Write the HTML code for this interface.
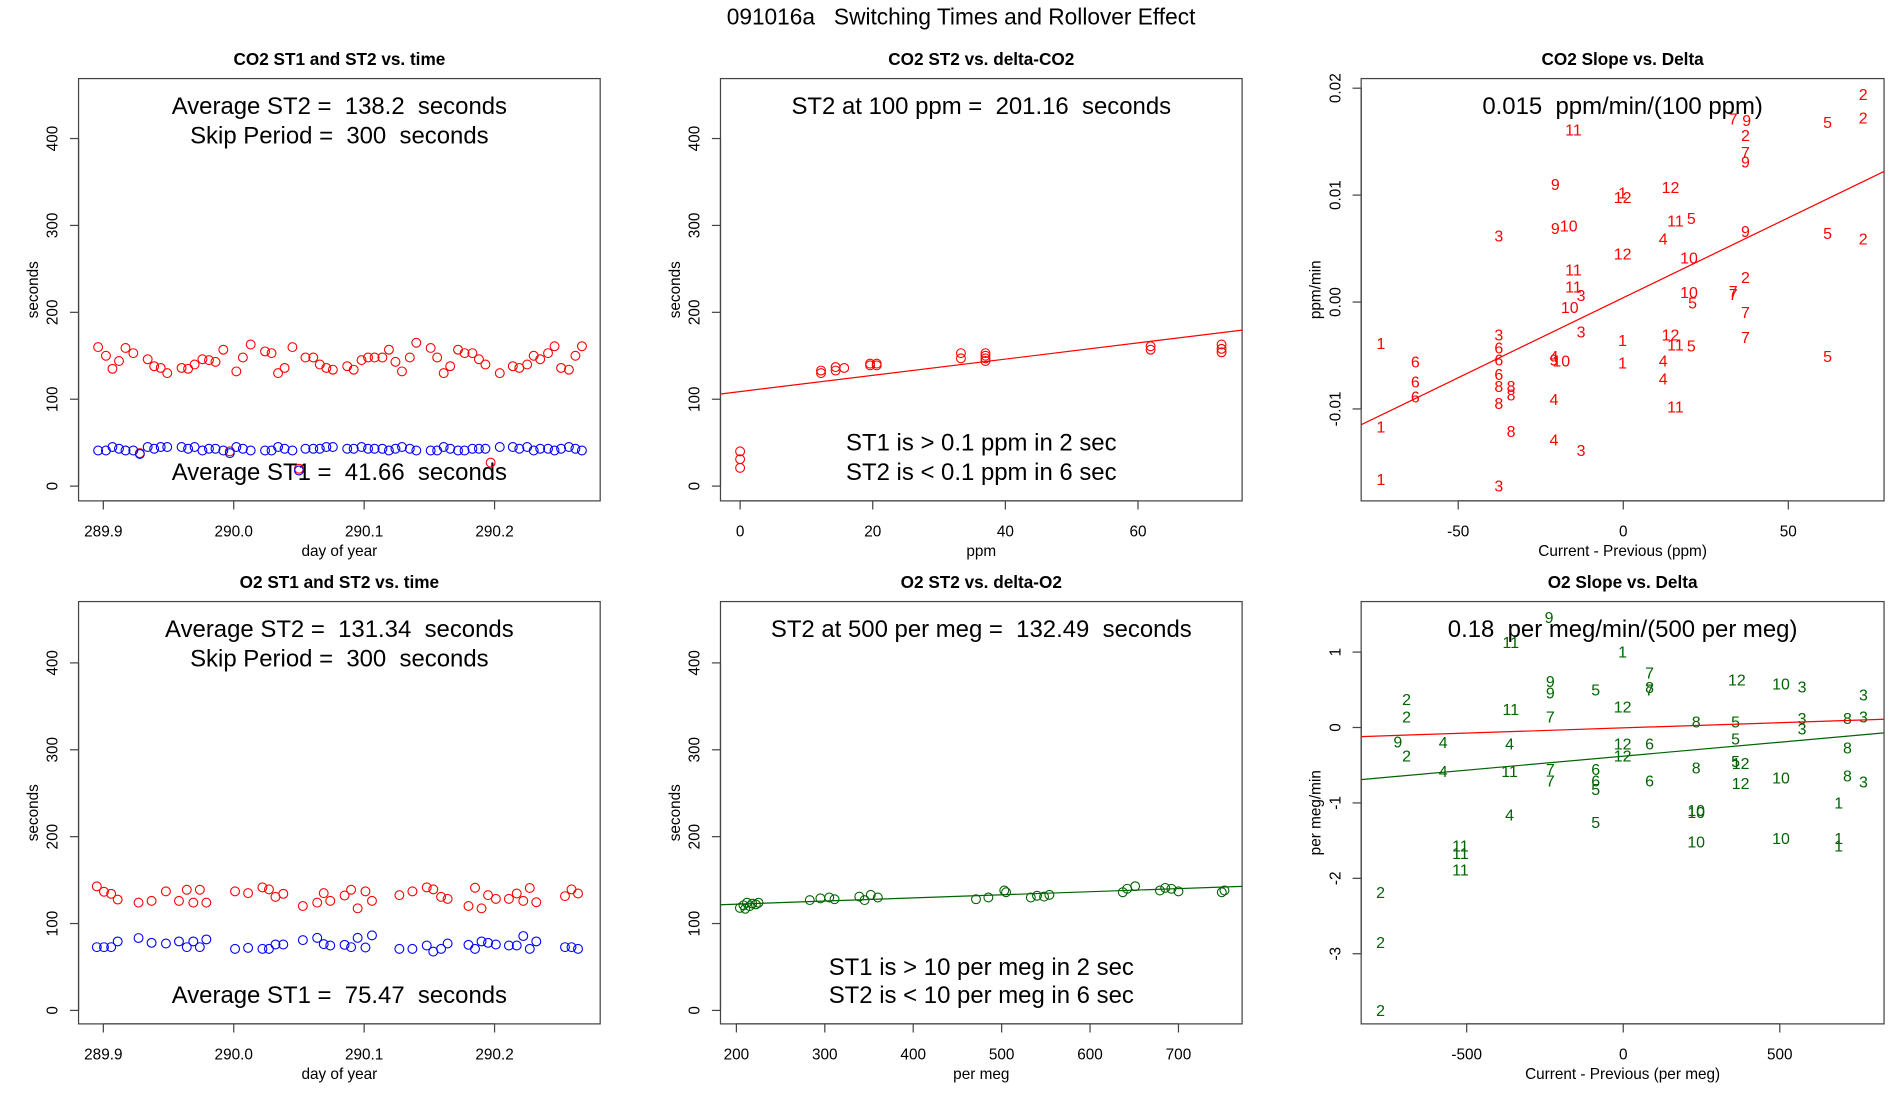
<!DOCTYPE html>
<html><head><meta charset="utf-8"><style>
html,body{margin:0;padding:0;background:#fff;}
svg{display:block;font-family:"Liberation Sans",sans-serif;}
</style></head><body>
<svg id="chart" width="1900" height="1100" viewBox="0 0 1548 896" preserveAspectRatio="none" xmlns="http://www.w3.org/2000/svg">
<rect x="0" y="0" width="1548" height="896" fill="#fff"/>
<text x="783" y="20" font-size="18.5" text-anchor="middle" xml:space="preserve">091016a   Switching Times and Rollover Effect</text>
</svg>
<script>
// ---- Panel 1: CO2 ST1/ST2 vs time ----
const co2Days = [289.896,289.902,289.907,289.912,289.917,289.923,289.934,289.939,289.944,289.949,289.960,289.965,289.970,289.976,289.981,289.986,289.992,290.002,290.007,290.013,290.024,290.029,290.034,290.039,290.045,290.055,290.061,290.066,290.071,290.076,290.087,290.092,290.098,290.103,290.108,290.114,290.119,290.124,290.129,290.135,290.140,290.151,290.156,290.161,290.166,290.172,290.177,290.183,290.188,290.193,290.204,290.214,290.219,290.225,290.230,290.235,290.241,290.246,290.251,290.257,290.262,290.267];
const co2ST2 = [160,150,135,144,159,153,146,138,136,130,136,135,140,146,145,143,157,132,148,163,155,153,130,136,160,148,148,140,136,134,138,134,145,148,148,148,157,143,132,148,165,159,148,130,138,157,153,153,146,140,130,138,136,140,150,146,153,161,136,134,150,161];
const co2ST1 = [41,41,45,43,41,41,45,43,45,45,45,43,45,41,43,43,41,45,43,41,41,41,45,43,41,43,43,43,45,45,43,43,45,43,43,43,41,43,45,43,41,41,41,45,43,41,41,43,43,43,45,45,43,45,41,43,43,41,43,45,43,41];
const co2ExtraDays = [289.928,289.997,290.050,290.197];
const co2ExtraST2 = [38,40,20,27];
const co2ExtraDaysST1 = [289.928,289.997,290.050];
const co2ExtraST1 = [37,38,18];
// ---- Panel 2: CO2 ST2 vs delta ----
const co2Delta = [0,0,0,12.2,12.2,14.4,14.4,15.7,19.6,19.6,20.6,20.6,33.3,33.3,37,37,37,37,61.9,61.9,72.6,72.6,72.6];
const co2DeltaST2 = [40,31,21,133,130,137,133,136,141,139,141,139,153,147,153,150,147,144,161,157,163,158,154];
const co2FitIntercept = 108.8, co2FitSlope = 0.934;
// ---- Panel 3: CO2 slope vs delta ----
const co2SlopeX = [72.7,72.7,61.9,33.3,37.4,37.0,37.0,37.0,-15.1,-20.6,-0.2,-0.2,14.3,15.8,20.6,-20.6,-16.5,-37.7,12.1,37.0,61.9,72.7,-0.2,19.9,-15.1,-15.1,-12.8,-16.2,19.9,21.0,37.0,33.3,33.3,37.0,-12.8,-37.7,-0.2,14.3,15.8,20.6,37.0,61.9,-73.4,-63.0,-37.7,-37.7,-37.7,-37.7,-37.7,-34.0,-34.0,-21.0,-18.8,-21.0,-0.2,12.1,12.1,-63.0,-63.0,-21.0,15.8,-34.0,-73.4,-21.0,-12.8,-73.4,-37.7];
const co2SlopeY = [0.0194,0.0172,0.0168,0.0171,0.0170,0.0156,0.0140,0.0131,0.0161,0.0110,0.0102,0.0098,0.0107,0.0076,0.0078,0.0069,0.0071,0.0062,0.0059,0.0066,0.0064,0.0059,0.0045,0.0041,0.0030,0.0014,0.0006,-0.0005,0.0009,-0.0001,0.0023,0.0010,0.0007,-0.0010,-0.0028,-0.0031,-0.0036,-0.0031,-0.0040,-0.0041,-0.0033,-0.0051,-0.0039,-0.0056,-0.0043,-0.0054,-0.0068,-0.0079,-0.0095,-0.0079,-0.0087,-0.0051,-0.0055,-0.0054,-0.0057,-0.0055,-0.0072,-0.0075,-0.0089,-0.0091,-0.0098,-0.0121,-0.0117,-0.0129,-0.0139,-0.0166,-0.0172];
const co2SlopeLab = ["2","2","5","7","9","2","7","9","11","9","1","12","12","11","5","9","10","3","4","9","5","2","12","10","11","11","3","10","10","5","2","7","7","7","3","3","1","12","11","5","7","5","1","6","6","6","6","8","8","8","8","4","10","9","1","4","4","6","6","4","11","8","1","4","3","1","3"];
const co2SlopeIntercept = 0.0004, co2SlopeSlope = 0.0001496;
// ---- Panel 4: O2 ST1/ST2 vs time ----
const o2Days = [289.895,289.9005,289.906,289.911,289.927,289.937,289.948,289.958,289.964,289.969,289.974,289.979,290.001,290.011,290.022,290.027,290.032,290.038,290.053,290.064,290.069,290.074,290.085,290.090,290.095,290.101,290.106,290.127,290.137,290.148,290.153,290.159,290.164,290.180,290.185,290.190,290.195,290.201,290.211,290.217,290.222,290.227,290.232,290.254,290.259,290.264];
const o2ST2 = [142.8,136.6,134.2,127.6,124.1,126.1,137.0,126.1,138.9,124.1,138.9,124.1,137.0,135.0,141.6,139.3,130.7,134.2,120.2,124.1,135.0,126.1,132.3,138.9,117.5,137.0,126.1,132.7,137.0,141.6,139.3,130.7,128.4,120.2,141.2,117.5,132.7,128.4,128.4,134.6,126.1,140.9,124.5,131.5,139.3,134.6];
const o2ST1 = [72.8,72.8,72.8,79.4,83.3,77.8,77.0,79.4,72.8,79.4,72.8,81.7,70.8,72.0,70.8,70.8,75.9,75.9,80.9,83.5,76.3,74.7,75.5,72.8,83.5,72.4,86.4,70.8,70.8,74.7,67.7,70.8,77.0,75.5,70.8,79.4,77.8,75.9,74.7,74.7,85.6,70.8,79.4,72.8,72.8,70.8];
// ---- Panel 5: O2 ST2 vs delta ----
const o2Delta = [204,208,212,215,218,222,225,210,283,295,305,311,339,345,352,360,471,485,503,505,533,540,548,554,637,642,651,679,685,692,700,749,752];
const o2DeltaST2 = [118,121,124,120,123,122,124,117,127,129,130,128,131,127,133,130,128,130,138,136,130,132,131,133,136,140,143,138,141,140,137,136,138];
const o2FitIntercept = 115.1, o2FitSlope = 0.0359;
// ---- Panel 6: O2 slope vs delta ----
const o2SlopeX = [-237,-359,-2,84,84,84,363,504,571,-233,-233,-88,-2,-692,-692,-359,-233,233,359,571,571,716,767,767,-720,-692,-575,-363,-2,-2,84,359,359,375,716,-575,-363,-233,-233,-88,-88,-88,84,233,375,504,716,767,688,-363,-88,233,233,233,504,688,688,-520,-520,-520,-775,-775,-775];
const o2SlopeY = [1.46,1.13,1.0,0.72,0.50,0.53,0.63,0.58,0.54,0.61,0.46,0.50,0.27,0.37,0.14,0.24,0.14,0.07,0.07,-0.02,0.12,0.12,0.43,0.14,-0.19,-0.38,-0.20,-0.22,-0.22,-0.38,-0.22,-0.15,-0.45,-0.48,-0.27,-0.58,-0.58,-0.56,-0.71,-0.56,-0.71,-0.82,-0.71,-0.54,-0.74,-0.67,-0.64,-0.72,-1.0,-1.16,-1.26,-1.10,-1.13,-1.52,-1.47,-1.47,-1.57,-1.57,-1.67,-1.89,-2.19,-2.85,-3.75];
const o2SlopeLab = ["9","11","1","7","7","8","12","10","3","9","9","5","12","2","2","11","7","8","5","3","3","8","3","3","9","2","4","4","12","12","6","5","5","12","8","4","11","7","7","6","6","5","6","8","12","10","8","3","1","4","5","10","10","10","10","1","1","11","11","11","2","2","2"];
const o2RedIntercept = -0.005, o2RedSlope = 0.000138;
const o2GreenIntercept = -0.38, o2GreenSlope = 0.000371;

const NS = "http://www.w3.org/2000/svg";
const svg = document.getElementById('chart');
function mk(tag, attrs, parent) {
  const e = document.createElementNS(NS, tag);
  for (const k in attrs) e.setAttribute(k, attrs[k]);
  (parent || svg).appendChild(e);
  return e;
}
function txt(s, attrs, parent) { const t = mk('text', attrs, parent); t.textContent = s; return t; }

function makePanel(o) {
  const g = mk('g', {});
  
  
  const sx = v => o.x0 + (v - o.xd[0]) / (o.xd[1] - o.xd[0]) * (o.x1 - o.x0);
  const sy = v => o.y1 - (v - o.yd[0]) / (o.yd[1] - o.yd[0]) * (o.y1 - o.y0);
  const box = mk('rect', {x:o.x0, y:o.y0, width:o.x1-o.x0, height:o.y1-o.y0, fill:'none', stroke:'#444', 'stroke-width':1}, g);
  
  
  const t = txt(o.title, {x:(o.x0+o.x1)/2, y:o.y0-11, 'font-size':14, 'font-weight':'bold', 'text-anchor':'middle'}, g);
  
  
  const xa = mk('g', {}, g);
  
  
  mk('line', {x1:sx(o.xt[0]), x2:sx(o.xt[o.xt.length-1]), y1:o.y1, y2:o.y1, stroke:'#444'}, xa);
  o.xt.forEach((v, i) => {
    mk('line', {x1:sx(v), x2:sx(v), y1:o.y1, y2:o.y1+7, stroke:'#444'}, xa);
    const l = txt(o.xl[i], {x:sx(v), y:o.y1+29, 'font-size':12.5, 'text-anchor':'middle'}, xa);
    
    
  });
  const xt = txt(o.xTitle, {x:(o.x0+o.x1)/2, y:o.y1+45, 'font-size':12.5, 'text-anchor':'middle'}, g);
  
  
  const ya = mk('g', {}, g);
  
  
  mk('line', {x1:o.x0, x2:o.x0, y1:sy(o.yt[0]), y2:sy(o.yt[o.yt.length-1]), stroke:'#444'}, ya);
  o.yt.forEach((v, i) => {
    mk('line', {x1:o.x0, x2:o.x0-7, y1:sy(v), y2:sy(v), stroke:'#444'}, ya);
    const l = txt(o.yl[i], {x:0, y:0, 'font-size':12.5, 'text-anchor':'middle', transform:`translate(${o.x0-17},${sy(v)}) rotate(-90)`}, ya);
    
    
  });
  const yt = txt(o.yTitle, {x:0, y:0, 'font-size':12.5, 'text-anchor':'middle', transform:`translate(${o.x0-33},${(o.y0+o.y1)/2}) rotate(-90)`}, g);
  
  
  (o.notes || []).forEach(n => {
    const a = txt(n[0], {x:(o.x0+o.x1)/2, y:n[1]+7, 'font-size':19.5, 'text-anchor':'middle', 'xml:space':'preserve', style:'white-space:pre'}, g);
    
    
  });
  const clip = 'clip-' + o.name;
  const cp = mk('clipPath', {id:clip}, g);
  mk('rect', {x:o.x0, y:o.y0, width:o.x1-o.x0, height:o.y1-o.y0}, cp);
  const plot = mk('g', {'clip-path':`url(#${clip})`}, g);
  return {g, plot, sx, sy, o};
}
function circles(P, xs, ys, color, name) {
  const g = mk('g', {}, P.plot);
  
  
  xs.forEach((x, i) => {
    const c = mk('circle', {cx:P.sx(x), cy:P.sy(ys[i]), r:3.6, fill:'none', stroke:color, 'stroke-width':0.9}, g);
    
    
  });
}
function labels(P, xs, ys, labs, color, name) {
  const g = mk('g', {}, P.plot);
  
  
  xs.forEach((x, i) => {
    const t = txt(labs[i], {x:P.sx(x), y:P.sy(ys[i])+4.5, 'font-size':13, 'text-anchor':'middle', fill:color}, g);
    
    
  });
}
function fitLine(P, a, b, color, name) {
  const d = P.o.xd;
  const l = mk('line', {x1:P.sx(d[0]), y1:P.sy(a+b*d[0]), x2:P.sx(d[1]), y2:P.sy(a+b*d[1]), stroke:color, 'stroke-width':1}, P.plot);
  
  
}
const RED = '#ff0000', BLUE = '#0000ff', GREEN = '#006400';
const secTicks = [0,100,200,300,400], secLabs = ['0','100','200','300','400'];
const dayTicks = [289.9,290.0,290.1,290.2], dayLabs = ['289.9','290.0','290.1','290.2'];

const P1 = makePanel({name:'co2-time-panel', x0:64, x1:489, y0:64, y1:408, xd:[289.881,290.281], yd:[-17,469],
  xt:dayTicks, xl:dayLabs, yt:secTicks, yl:secLabs, title:'CO2 ST1 and ST2 vs. time', xTitle:'day of year', yTitle:'seconds',
  notes:[['Average ST2 =  138.2  seconds',86],['Skip Period =  300  seconds',110],['Average ST1 =  41.66  seconds',384]]});
circles(P1, co2Days, co2ST2, RED, 'st2-series');
circles(P1, co2ExtraDays, co2ExtraST2, RED, 'st2-outliers');
circles(P1, co2Days, co2ST1, BLUE, 'st1-series');
circles(P1, co2ExtraDaysST1, co2ExtraST1, BLUE, 'st1-outliers');

const P2 = makePanel({name:'co2-delta-panel', x0:587, x1:1012, y0:64, y1:408, xd:[-2.96,75.7], yd:[-17,469],
  xt:[0,20,40,60], xl:['0','20','40','60'], yt:secTicks, yl:secLabs, title:'CO2 ST2 vs. delta-CO2', xTitle:'ppm', yTitle:'seconds',
  notes:[['ST2 at 100 ppm =  201.16  seconds',86],['ST1 is > 0.1 ppm in 2 sec',360],['ST2 is < 0.1 ppm in 6 sec',384]]});
circles(P2, co2Delta, co2DeltaST2, RED, 'st2-vs-delta-series');
fitLine(P2, co2FitIntercept, co2FitSlope, RED, 'fit-line');

const P3 = makePanel({name:'co2-slope-panel', x0:1109, x1:1535, y0:64, y1:408, xd:[-79.4,79], yd:[-0.0186,0.0209],
  xt:[-50,0,50], xl:['-50','0','50'], yt:[-0.01,0,0.01,0.02], yl:['-0.01','0.00','0.01','0.02'], title:'CO2 Slope vs. Delta', xTitle:'Current - Previous (ppm)', yTitle:'ppm/min',
  notes:[['0.015  ppm/min/(100 ppm)',86]]});
labels(P3, co2SlopeX, co2SlopeY, co2SlopeLab, RED, 'slope-labels');
fitLine(P3, co2SlopeIntercept, co2SlopeSlope, RED, 'fit-line');

const P4 = makePanel({name:'o2-time-panel', x0:64, x1:489, y0:490, y1:834, xd:[289.881,290.281], yd:[-15.5,470.6],
  xt:dayTicks, xl:dayLabs, yt:secTicks, yl:secLabs, title:'O2 ST1 and ST2 vs. time', xTitle:'day of year', yTitle:'seconds',
  notes:[['Average ST2 =  131.34  seconds',512],['Skip Period =  300  seconds',536],['Average ST1 =  75.47  seconds',810]]});
circles(P4, o2Days, o2ST2, RED, 'st2-series');
circles(P4, o2Days, o2ST1, BLUE, 'st1-series');

const P5 = makePanel({name:'o2-delta-panel', x0:587, x1:1012, y0:490, y1:834, xd:[182,772], yd:[-15.5,470.6],
  xt:[200,300,400,500,600,700], xl:['200','300','400','500','600','700'], yt:secTicks, yl:secLabs, title:'O2 ST2 vs. delta-O2', xTitle:'per meg', yTitle:'seconds',
  notes:[['ST2 at 500 per meg =  132.49  seconds',512],['ST1 is > 10 per meg in 2 sec',787],['ST2 is < 10 per meg in 6 sec',810]]});
circles(P5, o2Delta, o2DeltaST2, GREEN, 'st2-vs-delta-series');
fitLine(P5, o2FitIntercept, o2FitSlope, GREEN, 'fit-line');

const P6 = makePanel({name:'o2-slope-panel', x0:1109, x1:1535, y0:490, y1:834, xd:[-837,833], yd:[-3.93,1.67],
  xt:[-500,0,500], xl:['-500','0','500'], yt:[-3,-2,-1,0,1], yl:['-3','-2','-1','0','1'], title:'O2 Slope vs. Delta', xTitle:'Current - Previous (per meg)', yTitle:'per meg/min',
  notes:[['0.18  per meg/min/(500 per meg)',512]]});
labels(P6, o2SlopeX, o2SlopeY, o2SlopeLab, GREEN, 'slope-labels');
fitLine(P6, o2RedIntercept, o2RedSlope, RED, 'reference-line');
fitLine(P6, o2GreenIntercept, o2GreenSlope, GREEN, 'fit-line');
</script>
</body></html>
